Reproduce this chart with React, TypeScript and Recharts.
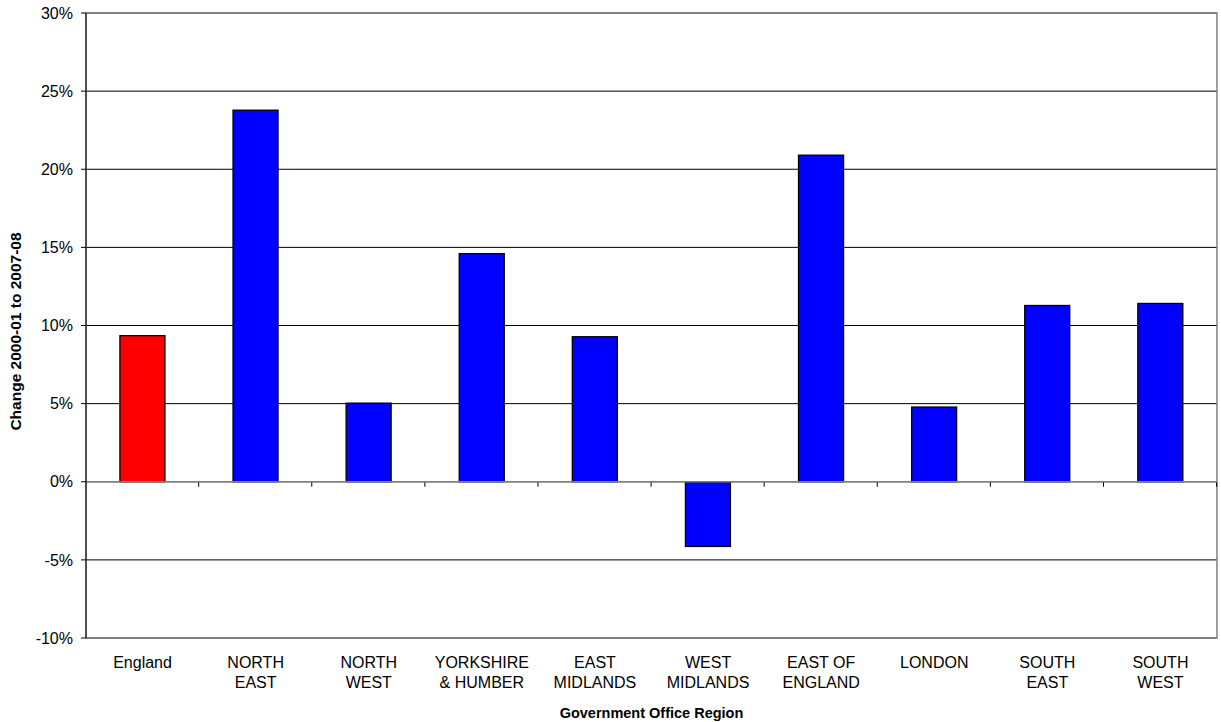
import React from "react";
import {
  BarChart,
  Bar,
  XAxis,
  YAxis,
  CartesianGrid,
  ReferenceArea,
  ReferenceLine,
  Label,
} from "recharts";

// Change in value 2000-01 to 2007-08 by region (%)
const regions = [
  "England",
  "NORTH EAST",
  "NORTH WEST",
  "YORKSHIRE & HUMBER",
  "EAST MIDLANDS",
  "WEST MIDLANDS",
  "EAST OF ENGLAND",
  "LONDON",
  "SOUTH EAST",
  "SOUTH WEST",
];
const regionLabels = [
  ["England"],
  ["NORTH", "EAST"],
  ["NORTH", "WEST"],
  ["YORKSHIRE", "& HUMBER"],
  ["EAST", "MIDLANDS"],
  ["WEST", "MIDLANDS"],
  ["EAST OF", "ENGLAND"],
  ["LONDON"],
  ["SOUTH", "EAST"],
  ["SOUTH", "WEST"],
];
const changes = [9.35, 23.78, 5.03, 14.6, 9.28, -4.14, 20.9, 4.78, 11.28, 11.41];
const yTicks = [-10, -5, 0, 5, 10, 15, 20, 25, 30];

const data = regions.map((region, i) => ({ region, change: changes[i] }));

const FONT = "'Liberation Sans', Arial, Helvetica, sans-serif";
const GAP = 0.3;

// bar with black outline, plus the small category-divider tick that hangs off the 0% line
const BarShape = (props: any) => {
  const { x, y, width, height, payload } = props;
  const top = Math.min(y, y + height);
  const h = Math.abs(height);
  const zeroY = payload.change >= 0 ? top + h : top;
  const band = width / (1 - 2 * GAP);
  const edge = x + width / 2 + band / 2;
  const fill = payload.region === "England" ? "#FF0000" : "#0000FF";
  return (
    <g>
      <rect x={x} y={top} width={width} height={h} fill={fill} stroke="#000" strokeWidth={1.3} />
      <line x1={edge} x2={edge} y1={zeroY} y2={zeroY + 5} stroke="#000" strokeWidth={1} />
    </g>
  );
};

const RegionTick = (props: any) => {
  const { x, y, payload, index } = props;
  const lines = regionLabels[index] ?? [payload.value];
  return (
    <text x={x} y={y} textAnchor="middle" fill="#000" fontSize={16} fontFamily={FONT}>
      {lines.map((l: string, i: number) => (
        <tspan key={i} x={x} dy={i === 0 ? 22 : 20}>
          {l}
        </tspan>
      ))}
    </text>
  );
};

const YTitle = (props: any) => {
  const { viewBox } = props;
  const cx = 15;
  const cy = viewBox.y + viewBox.height / 2 + 6;
  return (
    <text
      x={cx}
      y={cy}
      transform={`rotate(-90 ${cx} ${cy})`}
      textAnchor="middle"
      dominantBaseline="central"
      fontSize={15.5}
      fontWeight="bold"
      fontFamily={FONT}
      fill="#000"
    >
      Change 2000-01 to 2007-08
    </text>
  );
};

export default function App() {
  return (
    <div style={{ position: "absolute", left: 0, top: 0, background: "#fff" }}>
      <BarChart
        width={1221}
        height={722}
        data={data}
        margin={{ top: 13, right: 4, left: 0, bottom: 0 }}
        barCategoryGap={`${GAP * 100}%`}
      >
        <CartesianGrid vertical={false} stroke="#000" />
        <ReferenceArea y1={-10} y2={30} fill="none" stroke="#808080" strokeWidth={1.5} ifOverflow="visible" />
        <XAxis
          dataKey="region"
          height={84}
          interval={0}
          axisLine={false}
          tickLine={false}
          tick={<RegionTick />}
        >
          <Label
            value="Government Office Region"
            position="insideBottom"
            offset={4}
            fontSize={14.5}
            fontWeight="bold"
            fontFamily={FONT}
            fill="#000"
          />
        </XAxis>
        <YAxis
          type="number"
          domain={[-10, 30]}
          ticks={yTicks}
          allowDataOverflow
          width={86}
          tickFormatter={(v: number) => `${v}%`}
          axisLine={{ stroke: "#000" }}
          tickLine={{ stroke: "#000" }}
          tickSize={5}
          tickMargin={8}
          tick={{ fill: "#000", fontSize: 16, fontFamily: FONT }}
        >
          <Label content={<YTitle />} />
        </YAxis>
        <ReferenceLine y={0} stroke="#808080" strokeWidth={1.5} />
        <Bar dataKey="change" shape={<BarShape />} isAnimationActive={false} />
      </BarChart>
    </div>
  );
}
